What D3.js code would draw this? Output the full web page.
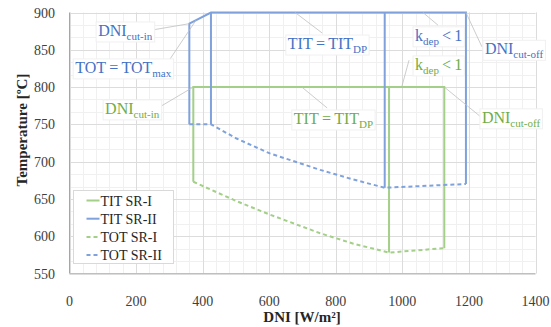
<!DOCTYPE html>
<html>
<head>
<meta charset="utf-8">
<script src="https://cdn.jsdelivr.net/npm/d3@7"></script>
<style>
  body { margin: 0; background: #fff; }
  text { font-family: "Liberation Serif", "Times New Roman", serif; }
</style>
</head>
<body>
<div id="chart"></div>
<script>
// DNI [W/m2] vs temperature [ºC]; null splits a series into separate strokes
const titSR1 = [[372, 673], [372, 800], [1126, 800], [1126, 584], null, [960, 800], [960, 578]];
const titSR2 = [[360, 750], [360, 885], [425, 900], [1191, 900], [1191, 670], null,
                [425, 900], [425, 750], null, [947, 900], [947, 665]];
const totSR1 = [[372, 673], [437, 660], [502, 647], [602, 629], [753, 604], [853, 590], [960, 578], [1126, 584]];
const totSR2 = [[360, 750], [425, 750], [502, 731], [602, 711], [753, 689], [853, 676], [947, 665], [1191, 670]];

const xTicks = [0, 200, 400, 600, 800, 1000, 1200, 1400];
const yTicks = [550, 600, 650, 700, 750, 800, 850, 900];

const blueLine = '#7fa2dc', greenLine = '#a3cf88';
const blueText = '#4472c4', greenText = '#70ad47';

const series = [
  { name: 'TIT SR-I', data: titSR1, color: greenLine, dash: null },
  { name: 'TIT SR-II', data: titSR2, color: blueLine, dash: null },
  { name: 'TOT SR-I', data: totSR1, color: greenLine, dash: '4,3' },
  { name: 'TOT SR-II', data: totSR2, color: blueLine, dash: '4,3' },
];

// callouts: text parts, text origin and leader start (DNI, ºC), anchor point on the curve
const notes = [
  { parts: [['DNI'], ['cut-in', 1]], color: blueText, at: [86, 868.5], from: [248, 876.5], to: [360, 885] },
  { parts: [['TOT\u2009=\u2009TOT'], ['max', 1]], color: blueText, at: [17, 819], from: [290, 829.6], to: [380, 889.6] },
  { parts: [['TIT\u2009=\u2009TIT'], ['DP', 1]], color: blueText, at: [656, 851], from: [759, 872.5], to: [678, 900] },
  { parts: [['k'], ['dep', 1], ['\u2009<\u20091']], color: blueText, at: [1038, 862], from: [1107, 883], to: [1062, 900] },
  { parts: [['DNI'], ['cut-off', 1]], color: blueText, at: [1248, 844], from: [1239, 854], to: [1191, 900] },
  { parts: [['DNI'], ['cut-in', 1]], color: greenText, at: [107, 764], from: [266, 772], to: [372, 800] },
  { parts: [['TIT\u2009=\u2009TIT'], ['DP', 1]], color: greenText, at: [674, 750.5], from: [774, 772], to: [698, 800] },
  { parts: [['k'], ['dep', 1], ['\u2009<\u20091']], color: greenText, at: [1038, 823], from: [1020, 836], to: [998, 800] },
  { parts: [['DNI'], ['cut-off', 1]], color: greenText, at: [1239, 752], from: [1233, 761], to: [1126, 800] },
];

const width = 551, height = 327;
const svg = d3.select('#chart').append('svg')
  .attr('width', width)
  .attr('height', height);

const x = d3.scaleLinear().domain([0, 1400]).range([69.5, 535.5]);
const y = d3.scaleLinear().domain([550, 900]).range([273.5, 12.5]);

// minor grid
const grid = svg.append('g');
grid.selectAll('line.vx')
  .data(d3.range(0, 1401, 40))
  .join('line')
  .attr('x1', d => Math.round(x(d)) + 0.5).attr('x2', d => Math.round(x(d)) + 0.5)
  .attr('y1', y(550)).attr('y2', y(900))
  .attr('stroke', '#f0f0f0');
grid.selectAll('line.hy')
  .data(d3.range(0, 22).map(i => 550 + i * 50 / 3))
  .join('line')
  .attr('y1', d => Math.round(y(d)) + 0.5).attr('y2', d => Math.round(y(d)) + 0.5)
  .attr('x1', x(0)).attr('x2', x(1400))
  .attr('stroke', '#f0f0f0');

// major grid
grid.append('g').selectAll('line')
  .data(xTicks)
  .join('line')
  .attr('x1', d => Math.round(x(d)) + 0.5).attr('x2', d => Math.round(x(d)) + 0.5)
  .attr('y1', y(550)).attr('y2', y(900))
  .attr('stroke', '#dcdcdc');
grid.append('g').selectAll('line')
  .data(yTicks)
  .join('line')
  .attr('y1', d => Math.round(y(d)) + 0.5).attr('y2', d => Math.round(y(d)) + 0.5)
  .attr('x1', x(0)).attr('x2', x(1400))
  .attr('stroke', '#dcdcdc');

// axis lines
svg.append('line')
  .attr('x1', x(0)).attr('x2', x(0)).attr('y1', y(550)).attr('y2', y(900))
  .attr('stroke', '#a6a6a6');
svg.append('line')
  .attr('x1', x(0)).attr('x2', x(1400)).attr('y1', y(550)).attr('y2', y(550))
  .attr('stroke', '#bfbfbf');

// tick labels
svg.append('g').selectAll('text')
  .data(yTicks)
  .join('text')
  .attr('x', 55)
  .attr('y', d => y(d) + 5)
  .attr('text-anchor', 'end')
  .attr('font-size', 14)
  .attr('fill', '#404040')
  .text(d => d);
svg.append('g').selectAll('text')
  .data(xTicks)
  .join('text')
  .attr('x', d => x(d))
  .attr('y', 306)
  .attr('text-anchor', 'middle')
  .attr('font-size', 14)
  .attr('fill', '#404040')
  .text(d => d);

// axis titles
svg.append('text')
  .attr('x', 302).attr('y', 322)
  .attr('text-anchor', 'middle')
  .attr('font-size', 15).attr('font-weight', 'bold')
  .attr('fill', '#262626')
  .text('DNI [W/m²]');
svg.append('text')
  .attr('transform', 'translate(27,130) rotate(-90)')
  .attr('text-anchor', 'middle')
  .attr('font-size', 15).attr('font-weight', 'bold')
  .attr('fill', '#262626')
  .text('Temperature [ºC]');

// series
const line = d3.line()
  .defined(d => d !== null)
  .x(d => x(d[0]))
  .y(d => y(d[1]));

svg.append('g').selectAll('path')
  .data(series)
  .join('path')
  .attr('d', d => line(d.data))
  .attr('fill', 'none')
  .attr('stroke', d => d.color)
  .attr('stroke-width', 2)
  .attr('stroke-dasharray', d => d.dash);

// callouts
const noteG = svg.append('g');
notes.forEach(n => {
  noteG.append('line')
    .attr('x1', x(n.from[0])).attr('y1', y(n.from[1]))
    .attr('x2', x(n.to[0])).attr('y2', y(n.to[1]))
    .attr('stroke', '#bfbfbf')
    .attr('stroke-width', 0.8);
  const g = noteG.append('g');
  const box = g.append('rect');
  const t = g.append('text')
    .attr('x', x(n.at[0]))
    .attr('y', y(n.at[1]))
    .attr('fill', n.color)
    .attr('font-size', 16);
  let shifted = false;
  n.parts.forEach(([s, sub]) => {
    const sp = t.append('tspan').text(s);
    if (sub && !shifted) { sp.attr('dy', 4).attr('font-size', 11); shifted = true; }
    else if (sub) { sp.attr('font-size', 11); }
    else if (shifted) { sp.attr('dy', -4); shifted = false; }
  });
  const bb = t.node().getBBox();
  box.attr('x', bb.x - 2).attr('y', bb.y)
    .attr('width', bb.width + 4).attr('height', bb.height)
    .attr('fill', '#fff')
    .attr('stroke', '#f0f0f0');
});

// legend
const legend = svg.append('g').attr('transform', 'translate(73.5,190.5)');
legend.append('rect')
  .attr('width', 100).attr('height', 73)
  .attr('fill', '#fff')
  .attr('stroke', '#d9d9d9');
const item = legend.selectAll('g.item')
  .data(series)
  .join('g')
  .attr('class', 'item')
  .attr('transform', (d, i) => `translate(0,${10 + i * 18.2})`);
item.append('line')
  .attr('x1', 13).attr('x2', 26)
  .attr('stroke', d => d.color)
  .attr('stroke-width', 2)
  .attr('stroke-dasharray', d => d.dash);
item.append('text')
  .attr('x', 27).attr('y', 5)
  .attr('font-size', 14)
  .attr('fill', '#262626')
  .text(d => d.name);
</script>
</body>
</html>
